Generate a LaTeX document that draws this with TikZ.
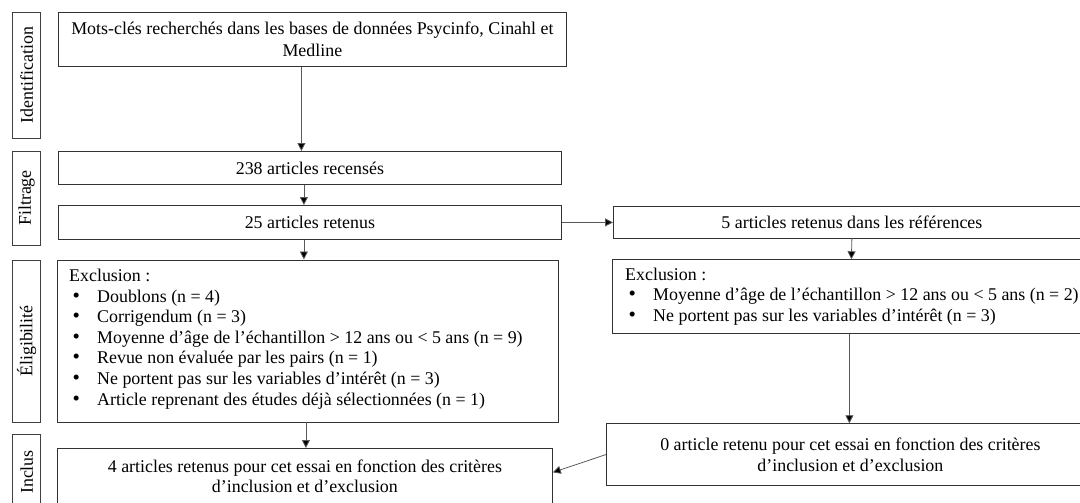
\documentclass[tikz,border=0pt]{standalone}
\usepackage{fontspec}
\setmainfont{Liberation Serif}
\usetikzlibrary{arrows.meta,calc}
\newcommand\bul{\makebox[28pt][l]{\hspace{3.5pt}{\fontsize{21}{20}\selectfont\textbullet}}}
\begin{document}
\begin{tikzpicture}[x=1pt,y=-1pt,
  box/.style={draw=black!80, line width=0.8pt, inner sep=0pt, anchor=north west,
    font=\fontsize{17.9}{20.6}\selectfont, align=center},
  txt/.style={inner sep=0pt, align=left, font=\fontsize{17.9}{20.6}\selectfont},
  phase/.style={draw=black!75, line width=0.8pt, rotate=90, inner sep=0pt,
    minimum height=28pt, font=\fontsize{17.9}{20.6}\selectfont},
  arr/.style={draw=black!65, line width=0.8pt, -{Triangle[width=8pt,length=8pt,fill=black]}}]
\useasboundingbox (0,0) rectangle (1080,503);
% phase labels
\node[phase, minimum width=126pt] (pid) at (26.7,75) {Identification};
\node[phase, minimum width=94pt] (pfi) at (26.7,198) {Filtrage};
\node[phase, minimum width=162pt] (pel) at (26.7,341) {Éligibilité};
\node[phase, minimum width=76pt] (pin) at (26.7,472) {Inclus};
% left column
\node[box, minimum width=508pt, minimum height=54pt,
  font=\fontsize{17.9}{22.5}\selectfont] (b1) at (58,12)
  {Mots-clés recherchés dans les bases de données Psycinfo, Cinahl et\\Medline};
\node[box, minimum width=503pt, minimum height=33pt] (b238) at (58,151) {238 articles recensés};
\node[box, minimum width=503pt, minimum height=34pt] (b25) at (58,205) {25 articles retenus};
\node[box, minimum width=501pt, minimum height=162pt] (exl) at (57,259.5) {};
\node[txt, anchor=west] (exlt) at ([xshift=12pt,yshift=2pt]exl.west)
  {Exclusion :\\
   \bul Doublons (n = 4)\\
   \bul Corrigendum (n = 3)\\
   \bul Moyenne d’âge de l’échantillon > 12 ans ou < 5 ans (n = 9)\\
   \bul Revue non évaluée par les pairs (n = 1)\\
   \bul Ne portent pas sur les variables d’intérêt (n = 3)\\
   \bul Article reprenant des études déjà sélectionnées (n = 1)};
\node[box, minimum width=495pt, minimum height=56pt] (b4) at (57,448)
  {4 articles retenus pour cet essai en fonction des critères\\d’inclusion et d’exclusion};
% right column
\node[box, minimum width=477pt, minimum height=31.7pt] (b5) at (613,206) {5 articles retenus dans les références};
\node[box, minimum width=478pt, minimum height=73.4pt] (exr) at (612,259.3) {};
\node[txt, anchor=west] (exrt) at ([xshift=13pt]exr.west)
  {Exclusion :\\
   \bul Moyenne d’âge de l’échantillon > 12 ans ou < 5 ans (n = 2)\\
   \bul Ne portent pas sur les variables d’intérêt (n = 3)};
\node[box, minimum width=488pt, minimum height=61.7pt] (b0) at (606,423.3)
  {0 article retenu pour cet essai en fonction des critères\\d’inclusion et d’exclusion};
% connectors
\draw[arr] ([xshift=-11pt]b1.south) -- ([xshift=-8.5pt]b238.north);
\draw[arr] ([xshift=-6pt]b238.south) -- ([xshift=-6pt]b25.north);
\draw[arr] ([xshift=-6pt]b25.south) -- ([xshift=-4pt]exl.north);
\draw[arr] ([xshift=-2pt]exl.south) -- ([xshift=1pt]b4.north);
\draw[arr] (b25.east) -- (b25.east -| b5.west);
\draw[arr] ([xshift=0pt]b5.south) -- ([xshift=0pt]exr.north);
\draw[arr] ([xshift=-2pt]exr.south) -- ([xshift=-1pt]b0.north);
\draw[arr] (b0.west) -- ([yshift=4pt]b4.east);
\end{tikzpicture}
\end{document}
